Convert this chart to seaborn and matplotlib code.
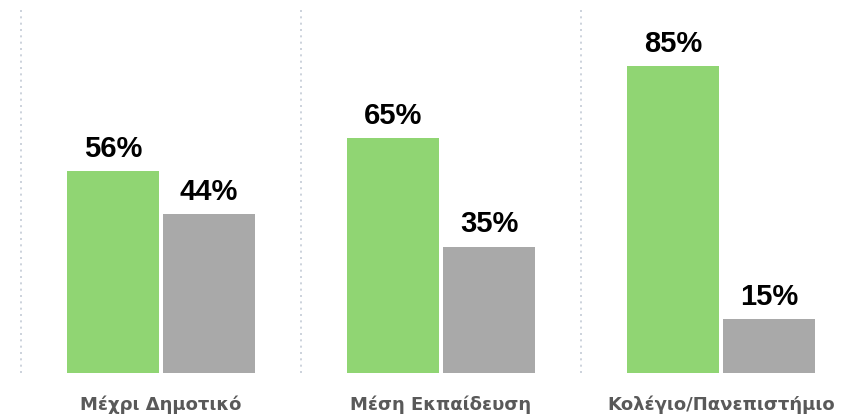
import matplotlib
matplotlib.use('Agg')
import matplotlib.pyplot as plt
import seaborn as sns
import pandas as pd

categories = ['Μέχρι Δημοτικό', 'Μέση Εκπαίδευση', 'Κολέγιο/Πανεπιστήμιο']
series = ['Ναι', 'Όχι']
values_yes = [56, 65, 85]
values_no = [44, 35, 15]
colors = ['#90d573', '#a9a9a9']


def _process_data():
    rows = []
    for cat, yes, no in zip(categories, values_yes, values_no):
        rows.append([cat, series[0], yes])
        rows.append([cat, series[1], no])
    return pd.DataFrame(rows, columns=['category', 'series', 'value'])


def _plot(df, save_path):
    sns.set_style('white')
    fig = plt.figure(figsize=(8.44, 4.15), dpi=100)
    ax = fig.add_axes([21 / 844, 42 / 415, 840 / 844, 361 / 415])

    sns.barplot(data=df, x='category', y='value', hue='series',
                order=categories, hue_order=series, palette=colors,
                width=0.6857, gap=0.0417, legend=False, ax=ax,
                saturation=1, linewidth=0, errorbar=None)

    for container in ax.containers:
        ax.bar_label(container, labels=['%d%%' % v for v in container.datavalues],
                     padding=6, fontsize=21, fontweight='bold', color='black',
                     family='Liberation Sans')

    # dotted separators between categories
    for xb in [-0.5, 0.5, 1.5, 2.5]:
        ax.axvline(xb, ymax=1.01, color='#c3cbd5', linewidth=1.2,
                   linestyle=(0, (1.2, 2.6)), zorder=0, clip_on=False)

    ax.set_xlim(-0.5, 2.5)
    ax.set_ylim(0, 100)
    ax.set_yticks([])
    ax.set_xlabel('')
    ax.set_ylabel('')
    for s in ax.spines.values():
        s.set_visible(False)

    ax.set_xticks([-0.5, 0.5, 1.5, 2.5], minor=True)
    ax.tick_params(axis='x', which='minor', length=3, direction='in', color='#b0b0b0', width=1)
    ax.tick_params(axis='x', which='major', length=0, pad=16, labelsize=13, labelcolor='#595959')
    for lbl in ax.get_xticklabels():
        lbl.set_fontweight('bold')

    fig.savefig(save_path, dpi=100)


df = _process_data()
_plot(df, 'out.png')
